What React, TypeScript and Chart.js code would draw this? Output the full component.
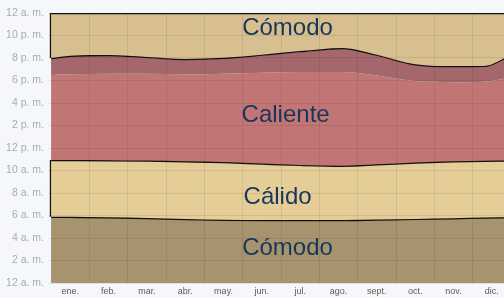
import React, { useEffect, useRef } from "react";
import { Chart, registerables } from "chart.js";

Chart.register(...registerables);

const monthLabels = ["ene.", "feb.", "mar.", "abr.", "may.", "jun.", "jul.", "ago.", "sept.", "oct.", "nov.", "dic."];
const monthCenters = [0.5, 1.5, 2.5, 3.5, 4.5, 5.5, 6.5, 7.5, 8.5, 9.5, 10.5, 11.5];
const monthBounds = [1, 2, 3, 4, 5, 6, 7, 8, 9, 10, 11];

const hourTickLabels = ["12 a. m.", "2 a. m.", "4 a. m.", "6 a. m.", "8 a. m.", "10 a. m.", "12 p. m.", "2 p. m.", "4 p. m.", "6 p. m.", "8 p. m.", "10 p. m.", "12 a. m."];

// x in months (0 = 1 ene, 12 = 31 dic)
const xs = [0, 0.5, 1.5, 2.5, 3.5, 4.5, 5.5, 6.5, 7.6, 8.5, 9.5, 10.5, 11.3, 12];
// hour boundaries between bands
const topHour = [24, 24, 24, 24, 24, 24, 24, 24, 24, 24, 24, 24, 24, 24];
const nightBoundary = [20.0, 20.2, 20.27, 20.1, 19.92, 20.02, 20.3, 20.62, 20.9, 20.3, 19.45, 19.28, 19.3, 20.3];
const duskShade = [18.5, 18.55, 18.6, 18.6, 18.55, 18.6, 18.7, 18.75, 18.75, 18.45, 17.95, 17.85, 17.9, 18.3];
const dayBoundary = [10.93, 10.93, 10.92, 10.88, 10.82, 10.75, 10.62, 10.5, 10.43, 10.55, 10.72, 10.83, 10.87, 10.88];
const morningBoundary = [5.89, 5.88, 5.85, 5.78, 5.69, 5.63, 5.6, 5.6, 5.6, 5.65, 5.7, 5.76, 5.82, 5.86];

const bandNames = ["Cómodo", "Caliente", "Cálido", "Cómodo"];
const bandLabelX = [6.17, 6.12, 5.91, 6.17];
const bandLabelY = [22.04, 14.27, 7.02, 2.49];

const pts = (ys: number[]) => xs.map((x, i) => ({ x, y: ys[i] }));

const FONT = "'Liberation Sans', Arial, sans-serif";

export default function App() {
  const ref = useRef<HTMLCanvasElement | null>(null);

  useEffect(() => {
    if (!ref.current) return;
    const lineBase = {
      type: "line" as const,
      pointRadius: 0,
      cubicInterpolationMode: "monotone" as const,
    };
    const labelsPlugin = {
      id: "bandLabels",
      afterDraw(chart: any) {
        const { ctx, scales } = chart;
        ctx.save();
        ctx.font = `24px ${FONT}`;
        ctx.fillStyle = "#17375a";
        ctx.textAlign = "center";
        ctx.textBaseline = "alphabetic";
        bandNames.forEach((n, i) => {
          ctx.fillText(n, scales.x.getPixelForValue(bandLabelX[i]), scales.y.getPixelForValue(bandLabelY[i]));
        });
        ctx.restore();
      },
    };
    const chart = new Chart(ref.current, {
      type: "line",
      data: {
        datasets: [
          { ...lineBase, data: pts(topHour), borderColor: "#111", borderWidth: 2.5, backgroundColor: "#d7bf8f", fill: "+1" },
          { ...lineBase, data: pts(nightBoundary), borderColor: "#111", borderWidth: 2.5, backgroundColor: "#a3676c", fill: "+1" },
          { ...lineBase, data: pts(duskShade), borderWidth: 0, borderColor: "rgba(0,0,0,0)", backgroundColor: "#c17675", fill: "+1" },
          { ...lineBase, data: pts(dayBoundary), borderColor: "#111", borderWidth: 2.5, backgroundColor: "#e5cd98", fill: "+1" },
          { ...lineBase, data: pts(morningBoundary), borderColor: "#111", borderWidth: 2.5, backgroundColor: "#a7946e", fill: "origin" },
          { ...lineBase, data: [{ x: xs[0], y: topHour[0] }, { x: xs[0], y: nightBoundary[0] }], borderColor: "#111", borderWidth: 2.5, fill: false },
          { ...lineBase, data: [{ x: xs[0], y: dayBoundary[0] }, { x: xs[0], y: morningBoundary[0] }], borderColor: "#111", borderWidth: 2.5, fill: false },
        ],
      },
      options: {
        animation: false,
        responsive: false,
        devicePixelRatio: 1,
        layout: { padding: { top: 13, right: 5, bottom: 0, left: 0 } },
        plugins: { legend: { display: false }, tooltip: { enabled: false } },
        scales: {
          x: {
            type: "linear",
            position: "bottom",
            min: -0.08,
            max: 12,
            afterBuildTicks: (axis: any) => {
              axis.ticks = monthCenters.map((v) => ({ value: v }));
            },
            afterFit: (axis: any) => {
              axis.height = 15;
            },
            ticks: {
              autoSkip: false,
              maxRotation: 0,
              padding: 3,
              color: "#5a5a5a",
              font: { family: FONT, size: 9 },
              callback: (_v: any, i: number) => monthLabels[i],
            },
            grid: { display: false, drawTicks: false },
            border: { display: false },
          },
          xg: {
            type: "linear",
            position: "bottom",
            min: -0.08,
            max: 12,
            afterBuildTicks: (axis: any) => {
              axis.ticks = monthBounds.map((v) => ({ value: v }));
            },
            afterFit: (axis: any) => {
              axis.height = 0;
            },
            ticks: { display: false },
            grid: { color: "rgba(0,0,0,0.08)", drawTicks: false, z: 1 },
            border: { display: false },
          },
          y: {
            type: "linear",
            min: 0,
            max: 24,
            afterFit: (axis: any) => {
              axis.width = 48;
            },
            ticks: {
              stepSize: 2,
              autoSkip: false,
              padding: 4,
              color: "#a7aabb",
              font: { family: FONT, size: 10.5 },
              callback: (v: any) => hourTickLabels[Math.round(Number(v) / 2)],
            },
            grid: { color: "rgba(0,0,0,0.08)", drawTicks: false, z: 1 },
            border: { display: false },
          },
        },
      } as any,
      plugins: [labelsPlugin],
    });
    return () => chart.destroy();
  }, []);

  return (
    <div style={{ position: "fixed", left: 0, top: 0, width: 504, height: 298, overflow: "hidden", background: "#f6f7fb" }}>
      <canvas ref={ref} width={516} height={298} style={{ display: "block", width: 516, height: 298 }} />
    </div>
  );
}
